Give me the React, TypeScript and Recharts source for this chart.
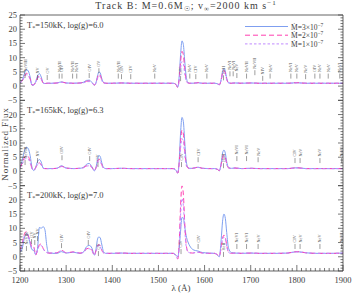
import React from 'react';
import { ComposedChart, Line, XAxis, YAxis, Scatter } from 'recharts';

const FONT = '"Liberation Serif", "DejaVu Serif", serif';
const INK = '#3c3c3c';
const BLUE = '#7f9ff0';
const PINK = '#ff3fb0';
const VIOLET = '#c08aff';

const W = 353;
const H = 294;
const PLOT_LEFT = 20;
const PLOT_RIGHT = 343;
const PLOT_TOP = 15;
const PANEL_H = 85.33;
const AX = 1; // axis thickness reserved by recharts

// wavelength grid (Angstrom)
const wavelengths = [
  1200, 1205, 1210, 1214, 1218, 1222, 1226, 1230, 1234, 1238, 1242, 1246, 1250, 1254, 1258, 1262, 1270, 1280, 1290, 1300,
  1315, 1330, 1338, 1344, 1350, 1356, 1361, 1365, 1368, 1371, 1374, 1377, 1381, 1386, 1400, 1420, 1440, 1460, 1480, 1500,
  1520, 1532, 1538, 1542, 1545, 1548, 1551, 1554, 1557, 1560, 1564, 1568, 1574, 1580, 1586, 1595, 1610, 1622, 1628, 1632,
  1636, 1639, 1642, 1645, 1648, 1652, 1658, 1666, 1680, 1700, 1720, 1740, 1760, 1780, 1800, 1820, 1840, 1860, 1880, 1900,
];

// T*=150kK, log g=6.0
const blue150 = [
  1.2, 2.2, 4.6, 5.8, 5.3, 3.2, 0.3, 0.4, 1.6, 3.6, 4.4, 3.2, 1.2, 0.9, 1.0, 1.0, 1.0, 1.1, 1.5, 1.1,
  1.0, 1.1, 1.4, 2.0, 2.1, 1.3, 0.3, 1.4, 3.6, 5.0, 4.6, 2.8, 1.3, 1.0, 1.0, 1.1, 1.0, 1.0, 1.0, 1.0,
  1.0, 1.0, 0.6, -0.4, 3.5, 11.0, 15.9, 14.6, 8.8, 3.6, 1.3, 1.0, 1.0, 1.1, 1.2, 1.0, 1.0, 1.0, 0.8, 0.4,
  2.4, 5.2, 6.2, 5.2, 2.8, 1.2, 1.0, 1.1, 1.0, 1.1, 1.0, 1.0, 1.0, 1.0, 1.2, 1.0, 1.0, 1.0, 1.0, 1.0,
];
const pink150 = [
  1.2, 1.9, 3.6, 4.5, 4.0, 2.5, 0.4, 0.5, 1.4, 3.0, 3.6, 2.6, 1.1, 0.9, 1.0, 1.0, 1.0, 1.1, 1.4, 1.1,
  1.0, 1.1, 1.3, 1.7, 1.8, 1.2, 0.4, 1.3, 3.0, 4.2, 3.8, 2.3, 1.2, 1.0, 1.0, 1.1, 1.0, 1.0, 1.0, 1.0,
  1.0, 1.0, 0.5, -0.5, 2.5, 8.5, 12.2, 11.0, 6.0, 2.2, 1.1, 1.0, 1.0, 1.1, 1.2, 1.0, 1.0, 1.0, 0.8, 0.5,
  2.2, 4.6, 5.5, 4.6, 2.4, 1.1, 1.0, 1.1, 1.0, 1.1, 1.0, 1.0, 1.0, 1.0, 1.2, 1.0, 1.0, 1.0, 1.0, 1.0,
];
const violet150 = [
  1.2, 1.8, 3.3, 4.0, 3.6, 2.3, 0.5, 0.6, 1.3, 2.7, 3.2, 2.4, 1.1, 0.9, 1.0, 1.0, 1.0, 1.1, 1.3, 1.1,
  1.0, 1.1, 1.2, 1.5, 1.6, 1.1, 0.5, 1.2, 2.6, 3.6, 3.3, 2.0, 1.1, 1.0, 1.0, 1.1, 1.0, 1.0, 1.0, 1.0,
  1.0, 1.0, 0.6, -0.2, 2.0, 6.2, 8.6, 7.8, 4.4, 1.8, 1.1, 1.0, 1.0, 1.1, 1.1, 1.0, 1.0, 1.0, 0.8, 0.6,
  2.0, 4.2, 5.0, 4.2, 2.2, 1.1, 1.0, 1.1, 1.0, 1.1, 1.0, 1.0, 1.0, 1.0, 1.1, 1.0, 1.0, 1.0, 1.0, 1.0,
];

// T*=165kK, log g=6.3
const blue165 = [
  1.3, 4.0, 7.5, 8.5, 8.0, 5.5, 1.5, 0.3, 1.5, 3.5, 4.2, 3.3, 1.2, 1.0, 1.0, 1.0, 1.0, 1.1, 2.0, 1.2,
  1.0, 1.1, 1.5, 2.5, 2.8, 1.6, 0.2, 1.6, 4.2, 5.6, 5.2, 3.2, 1.4, 1.0, 1.0, 1.1, 1.0, 1.0, 1.0, 1.0,
  1.0, 1.0, 0.4, -0.6, 4.0, 13.5, 19.0, 17.5, 10.5, 4.0, 1.4, 1.1, 1.1, 1.3, 1.5, 1.1, 1.0, 1.0, 0.7, 0.2,
  3.0, 6.5, 7.5, 6.4, 3.4, 1.4, 1.1, 1.2, 1.0, 1.1, 1.0, 1.0, 1.0, 1.0, 1.3, 1.0, 1.0, 1.0, 1.0, 1.0,
];
const pink165 = [
  1.3, 3.0, 5.0, 5.6, 5.2, 3.6, 1.0, 0.4, 1.3, 2.6, 3.0, 2.4, 1.1, 1.0, 1.0, 1.0, 1.0, 1.1, 1.8, 1.2,
  1.0, 1.1, 1.4, 2.0, 2.2, 1.4, 0.3, 1.4, 3.3, 4.3, 4.0, 2.5, 1.2, 1.0, 1.0, 1.1, 1.0, 1.0, 1.0, 1.0,
  1.0, 1.0, 0.4, -0.6, 3.0, 10.5, 14.5, 13.2, 7.5, 2.8, 1.2, 1.0, 1.1, 1.3, 1.5, 1.1, 1.0, 1.0, 0.7, 0.3,
  2.5, 5.0, 5.8, 5.0, 2.7, 1.2, 1.0, 1.2, 1.0, 1.1, 1.0, 1.0, 1.0, 1.0, 1.3, 1.0, 1.0, 1.0, 1.0, 1.0,
];
const violet165 = [
  1.3, 2.6, 4.2, 4.6, 4.3, 3.0, 0.9, 0.5, 1.2, 2.4, 2.8, 2.2, 1.1, 1.0, 1.0, 1.0, 1.0, 1.1, 1.7, 1.2,
  1.0, 1.1, 1.3, 1.8, 2.0, 1.3, 0.4, 1.3, 2.9, 3.8, 3.5, 2.2, 1.2, 1.0, 1.0, 1.1, 1.0, 1.0, 1.0, 1.0,
  1.0, 1.0, 0.5, -0.4, 2.4, 8.2, 11.5, 10.5, 6.0, 2.3, 1.2, 1.0, 1.1, 1.3, 1.4, 1.1, 1.0, 1.0, 0.8, 0.4,
  2.3, 4.5, 5.2, 4.5, 2.5, 1.2, 1.0, 1.2, 1.0, 1.1, 1.0, 1.0, 1.0, 1.0, 1.2, 1.0, 1.0, 1.0, 1.0, 1.0,
];

// T*=200kK, log g=7.0
const blue200 = [
  1.5, 3.0, 7.0, 8.2, 7.5, 4.5, 2.5, 2.2, 0.8, 3.0, 10.3, 10.0, 10.6, 9.5, 4.0, 1.3, 1.2, 1.2, 1.8, 1.3,
  1.6, 1.2, 1.8, 3.5, 4.0, 3.0, 0.6, 3.0, 6.2, 7.0, 6.6, 4.5, 1.8, 1.2, 1.2, 1.3, 1.2, 1.2, 1.2, 1.2,
  1.2, 1.2, 0.6, 0.0, 3.0, 9.0, 13.8, 13.5, 10.5, 7.5, 5.2, 3.8, 2.6, 2.2, 2.0, 1.5, 1.3, 1.2, 0.5, 0.0,
  6.0, 12.5, 15.0, 13.5, 8.5, 3.0, 1.5, 1.3, 1.2, 1.3, 1.2, 1.2, 1.2, 1.3, 1.8, 1.4, 1.2, 1.2, 1.2, 1.3,
];
const pink200 = [
  2.0, 5.0, 8.2, 8.9, 7.2, 5.5, 3.2, 3.4, 0.6, 2.5, 4.2, 4.5, 3.0, 2.0, 1.5, 1.3, 1.3, 1.4, 2.3, 1.4,
  1.7, 1.3, 1.6, 2.8, 3.0, 2.3, 0.5, 2.2, 3.8, 4.3, 3.8, 2.4, 1.4, 1.2, 1.2, 1.3, 1.2, 1.2, 1.2, 1.2,
  1.2, 1.2, 0.2, -0.8, 5.0, 18.0, 25.0, 22.0, 12.0, 4.5, 1.8, 1.4, 1.3, 1.5, 1.6, 1.3, 1.2, 1.2, 0.7, 0.2,
  3.5, 6.5, 7.6, 6.8, 4.0, 1.6, 1.2, 1.3, 1.2, 1.3, 1.2, 1.2, 1.2, 1.3, 1.8, 1.4, 1.2, 1.2, 1.2, 1.3,
];
const violet200 = [
  1.9, 4.5, 7.5, 8.0, 6.8, 5.0, 3.0, 3.0, 0.7, 2.3, 3.8, 4.0, 2.8, 1.9, 1.5, 1.3, 1.3, 1.4, 2.1, 1.4,
  1.6, 1.3, 1.5, 2.6, 2.8, 2.1, 0.6, 2.0, 3.5, 4.0, 3.6, 2.3, 1.4, 1.2, 1.2, 1.3, 1.2, 1.2, 1.2, 1.2,
  1.2, 1.2, 0.3, -0.6, 4.0, 14.5, 20.5, 18.0, 10.0, 3.8, 1.7, 1.4, 1.3, 1.5, 1.6, 1.3, 1.2, 1.2, 0.7, 0.3,
  3.2, 6.0, 6.9, 6.2, 3.7, 1.5, 1.2, 1.3, 1.2, 1.3, 1.2, 1.2, 1.2, 1.3, 1.7, 1.4, 1.2, 1.2, 1.2, 1.3,
];

// line identifications: wavelength, ion, flux level of tick top
const ids150 = [
  { w: 1211, ion: 'NeVIII', y: 4.6 }, { w: 1238, ion: 'NV', y: 3.9 }, { w: 1259, ion: 'OV', y: 3.9 },
  { w: 1285, ion: 'NeVII', y: 4.4 }, { w: 1291, ion: 'OIV', y: 4.4 }, { w: 1314, ion: 'NeVII', y: 4.4 },
  { w: 1323, ion: 'NeVI', y: 4.4 }, { w: 1350, ion: 'OIV', y: 4.6 }, { w: 1371, ion: 'OV', y: 6.3 },
  { w: 1413, ion: 'NeVII', y: 4.4 }, { w: 1420, ion: 'OIV', y: 4.2 }, { w: 1440, ion: 'CIV', y: 4.2 },
  { w: 1492, ion: 'NeV', y: 4.4 }, { w: 1548, ion: 'CIV', y: 3.5 }, { w: 1568, ion: 'NeV', y: 4.4 },
  { w: 1581, ion: 'CIV', y: 4.2 }, { w: 1605, ion: 'NeV', y: 4.4 }, { w: 1641, ion: 'HeII', y: 3.8 },
  { w: 1655, ion: 'NeVI', y: 5.2 }, { w: 1662, ion: 'NeVI', y: 5.2 }, { w: 1670, ion: 'NeV', y: 4.6 },
  { w: 1691, ion: 'NeVII', y: 4.4 }, { w: 1709, ion: 'NeVII', y: 5.6 }, { w: 1726, ion: 'NIV', y: 3.6 },
  { w: 1742, ion: 'NeV', y: 4.4 }, { w: 1787, ion: 'NeVI', y: 4.4 }, { w: 1800, ion: 'NeV', y: 4.4 },
  { w: 1819, ion: 'NeV', y: 4.2 }, { w: 1839, ion: 'OIV', y: 4.4 }, { w: 1850, ion: 'NeV', y: 4.4 },
  { w: 1868, ion: 'NeV', y: 4.4 }, { w: 1893, ion: 'NeVI', y: 4.4 },
];
const ids165 = [
  { w: 1211, ion: 'NeVIII', y: 4.0 }, { w: 1238, ion: 'NV', y: 4.7 }, { w: 1291, ion: 'OIV', y: 5.7 },
  { w: 1351, ion: 'OIV', y: 5.4 }, { w: 1369, ion: 'OV', y: 3.3 }, { w: 1550, ion: 'CIV', y: 3.3 },
  { w: 1586, ion: 'CIV', y: 5.0 }, { w: 1641, ion: 'HeII', y: 2.9 }, { w: 1670, ion: 'NeVI', y: 5.4 },
  { w: 1691, ion: 'NeVI', y: 5.4 }, { w: 1716, ion: 'NeV', y: 5.0 }, { w: 1796, ion: 'CIV', y: 4.7 },
  { w: 1807, ion: 'NeV', y: 4.7 }, { w: 1850, ion: 'NeV', y: 4.7 }, { w: 1897, ion: 'NeVI', y: 4.7 },
];
const ids200 = [
  { w: 1214, ion: 'NeVIII', y: 3.8 }, { w: 1225, ion: 'OV', y: 6.2 }, { w: 1232, ion: 'NV', y: 5.9 },
  { w: 1238, ion: 'NV', y: 7.3 }, { w: 1290, ion: 'OIV', y: 4.8 }, { w: 1348, ion: 'OIV', y: 5.9 },
  { w: 1370, ion: 'OV', y: 2.0 }, { w: 1549, ion: 'CIV', y: 2.7 }, { w: 1586, ion: 'CIV', y: 4.5 },
  { w: 1641, ion: 'HeII', y: 1.7 }, { w: 1670, ion: 'NeVI', y: 4.5 }, { w: 1691, ion: 'NeVI', y: 4.5 },
  { w: 1716, ion: 'NeV', y: 4.5 }, { w: 1796, ion: 'CIV', y: 4.5 }, { w: 1807, ion: 'NeV', y: 4.5 },
  { w: 1850, ion: 'NeV', y: 4.5 }, { w: 1897, ion: 'NeVI', y: 4.5 },
];

const xMajorTicks = [1200, 1300, 1400, 1500, 1600, 1700, 1800, 1900];
const seriesLabels = ['3', '2', '1'];

const xAllTicks: number[] = [];
for (let v = 1200; v <= 1900; v += 10) xAllTicks.push(v);
const yAllTicks: number[] = [];
for (let v = -5; v <= 25; v += 1) yAllTicks.push(v);

const panels = [
  { temp: '150', logg: '6.0', blue: blue150, pink: pink150, violet: violet150, ids: ids150 },
  { temp: '165', logg: '6.3', blue: blue165, pink: pink165, violet: violet165, ids: ids165 },
  { temp: '200', logg: '7.0', blue: blue200, pink: pink200, violet: violet200, ids: ids200 },
];

const fmtNum = (v: number) => (v < 0 ? '\u2212' + Math.abs(v) : String(v));

const makeYTickLeft = (showTop: boolean) => (props: any) => {
  const { x, y, payload } = props;
  const v = payload.value;
  const major = v % 5 === 0;
  const showLabel = major && (showTop || v !== 25);
  return (
    <g>
      <line x1={x} x2={x + (major ? 5 : 2.5)} y1={y} y2={y} stroke={INK} strokeWidth={0.7} />
      {showLabel && (
        <text x={x - 3} y={y} dy="0.35em" textAnchor="end" fontSize={8.5} fill={INK} fontFamily={FONT}>
          {fmtNum(v)}
        </text>
      )}
    </g>
  );
};

const YTickRight = (props: any) => {
  const { x, y, payload } = props;
  const major = payload.value % 5 === 0;
  return <line x1={x} x2={x - (major ? 5 : 2.5)} y1={y} y2={y} stroke={INK} strokeWidth={0.7} />;
};

const XTickBottom = (props: any) => {
  const { x, y, payload } = props;
  const v = payload.value;
  const major = xMajorTicks.includes(v);
  return (
    <g>
      <line x1={x} x2={x} y1={y} y2={y - (major ? 6 : 3)} stroke={INK} strokeWidth={0.7} />
      {major && (
        <text x={x} y={y + 12} textAnchor="middle" fontSize={8.5} fill={INK} fontFamily={FONT}>
          {v}
        </text>
      )}
    </g>
  );
};

const XTickTop = (props: any) => {
  const { x, y, payload } = props;
  const major = xMajorTicks.includes(payload.value);
  return <line x1={x} x2={x} y1={y} y2={y + (major ? 6 : 3)} stroke={INK} strokeWidth={0.7} />;
};

const IdMark = (props: any) => {
  const { cx, cy, payload } = props;
  if (cx == null || cy == null) return null;
  return (
    <g>
      <line x1={cx} x2={cx} y1={cy} y2={cy + 5} stroke={INK} strokeWidth={0.5} />
      <text
        x={cx}
        y={cy - 1.5}
        transform={`rotate(-90 ${cx} ${cy - 1.5})`}
        dy="0.35em"
        textAnchor="start"
        fontSize={4.2}
        fill="#555"
        fontFamily={FONT}
      >
        {payload.ion}
      </text>
    </g>
  );
};

const Panel = ({ index }: { index: number }) => {
  const p = panels[index];
  const top = PLOT_TOP + index * PANEL_H;
  const rows = wavelengths.map((w, i) => ({ w, b: p.blue[i], m: p.pink[i], v: p.violet[i] }));
  const isFirst = index === 0;
  const isLast = index === panels.length - 1;
  const mTop = isFirst ? top - AX : top;
  const mBottom = isLast ? H - top - PANEL_H - AX : H - top - PANEL_H;
  return (
    <div style={{ position: 'absolute', left: 0, top: 0 }}>
      <ComposedChart
        width={W}
        height={H}
        data={rows}
        margin={{ top: mTop, bottom: mBottom, left: PLOT_LEFT - AX, right: W - PLOT_RIGHT - AX }}
      >
        <XAxis
          dataKey="w"
          type="number"
          domain={[1200, 1900]}
          allowDataOverflow
          ticks={xAllTicks}
          interval={0}
          hide={!isLast}
          height={AX}
          tickSize={0}
          tickMargin={0}
          tickLine={false}
          axisLine={{ stroke: INK, strokeWidth: 0.8 }}
          tick={<XTickBottom />}
        />
        {isFirst && (
          <XAxis
            xAxisId="top"
            orientation="top"
            type="number"
            domain={[1200, 1900]}
            allowDataOverflow
            ticks={xAllTicks}
            interval={0}
            height={AX}
            tickSize={0}
            tickMargin={0}
            tickLine={false}
            axisLine={{ stroke: INK, strokeWidth: 0.8 }}
            tick={<XTickTop />}
          />
        )}
        <YAxis
          type="number"
          domain={[-5, 25]}
          allowDataOverflow
          ticks={yAllTicks}
          interval={0}
          width={AX}
          tickSize={0}
          tickMargin={0}
          tickLine={false}
          axisLine={{ stroke: INK, strokeWidth: 0.8 }}
          tick={makeYTickLeft(isFirst)}
        />
        <YAxis
          yAxisId="r"
          orientation="right"
          type="number"
          domain={[-5, 25]}
          allowDataOverflow
          ticks={yAllTicks}
          interval={0}
          width={AX}
          tickSize={0}
          tickMargin={0}
          tickLine={false}
          axisLine={{ stroke: INK, strokeWidth: 0.8 }}
          tick={<YTickRight />}
        />
        <Line dataKey="b" type="monotone" stroke={BLUE} strokeWidth={1} dot={false} isAnimationActive={false} />
        <Line
          dataKey="m"
          type="monotone"
          stroke={PINK}
          strokeWidth={1}
          strokeDasharray="5 3"
          dot={false}
          isAnimationActive={false}
        />
        <Line
          dataKey="v"
          type="monotone"
          stroke={VIOLET}
          strokeWidth={1}
          strokeDasharray="2.5 2"
          dot={false}
          isAnimationActive={false}
        />
        <Scatter data={p.ids} dataKey="y" shape={IdMark} isAnimationActive={false} />
      </ComposedChart>
    </div>
  );
};

const legendItems = [
  { color: BLUE, dash: undefined as string | undefined },
  { color: PINK, dash: '5 3' },
  { color: VIOLET, dash: '2.5 2' },
];

const Overlay = () => (
  <svg width={W} height={H} style={{ position: 'absolute', left: 0, top: 0, pointerEvents: 'none' }} fontFamily={FONT}>
    <text x={186} y={9} textAnchor="middle" fontSize={10} fill={INK} letterSpacing={1}>
      Track B: M=0.6M<tspan fontSize={7} dy={2}>☉</tspan>
      <tspan dy={-2}>; v</tspan>
      <tspan fontSize={7} dy={2}>∞</tspan>
      <tspan dy={-2}>=2000 km s</tspan>
      <tspan fontSize={7} dy={-4}>−1</tspan>
    </text>
    {panels.map((p, i) => (
      <text key={p.temp} x={27} y={PLOT_TOP + i * PANEL_H + 12.5} fontSize={8.5} fill={INK}>
        T<tspan fontSize={6} dy={2}>*</tspan>
        <tspan dy={-2}>={p.temp}kK, log(g)={p.logg}</tspan>
      </text>
    ))}
    {legendItems.map((it, i) => (
      <g key={i}>
        <line x1={245} x2={288} y1={26.5 + i * 8.7} y2={26.5 + i * 8.7} stroke={it.color} strokeWidth={1} strokeDasharray={it.dash} />
        <text x={291} y={29.5 + i * 8.7} fontSize={7.5} fill={INK}>
          Ṁ={seriesLabels[i]}×10<tspan fontSize={5.5} dy={-3}>−7</tspan>
        </text>
      </g>
    ))}
    <text x={5} y={144} transform="rotate(-90 5 144)" textAnchor="middle" dy="0.35em" fontSize={9} letterSpacing={0.8} fill={INK}>
      Normalized Flux
    </text>
    <text x={181} y={291} textAnchor="middle" fontSize={9} fill={INK}>
      λ (Å)
    </text>
  </svg>
);

export default function App() {
  return (
    <div style={{ position: 'absolute', left: 0, top: 0, width: W, height: H, background: '#fff' }}>
      {panels.map((p, i) => (
        <Panel key={p.temp} index={i} />
      ))}
      <Overlay />
    </div>
  );
}
